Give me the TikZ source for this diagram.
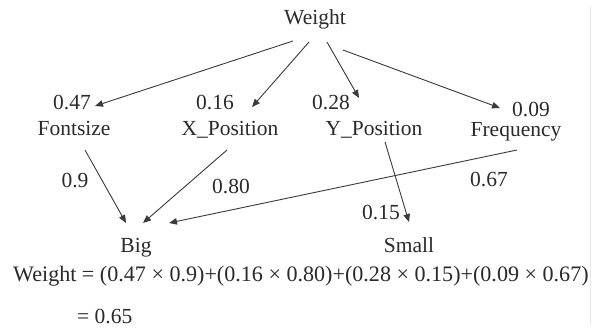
\documentclass[tikz,border=0pt]{standalone}
\usepackage{fontspec}
\setmainfont{Liberation Serif}
\usetikzlibrary{arrows.meta}
\definecolor{ink}{HTML}{2A2A2A}
\definecolor{wire}{HTML}{3A3A3A}
\begin{document}
\begin{tikzpicture}[x=1pt,y=-1pt,
  lbl/.style={anchor=base,inner sep=0pt,text=ink,font=\fontsize{21.5}{24}\selectfont},
  conn/.style={draw=wire,line width=0.9pt,-{Triangle[length=8pt,width=6.5pt]}}]
\useasboundingbox[fill=white] (0,0) rectangle (597,329);
\draw[gray!18,line width=1pt] (590,7) -- (590,325);
% nodes
\node[lbl] (w) at (315,25) {Weight};
\node[lbl] (l47) at (72,110) {0.47};
\node[lbl] (l16) at (215,110) {0.16};
\node[lbl] (l28) at (331,110) {0.28};
\node[lbl] (l09) at (531,116) {0.09};
\node[lbl] (fs) at (74,135) {Fontsize};
\node[lbl] (xp) at (230,135) {X\_Position};
\node[lbl] (yp) at (374,135) {Y\_Position};
\node[lbl] (fq) at (516,136) {Frequency};
\node[lbl] (l9) at (75,187) {0.9};
\node[lbl] (l80) at (231,193) {0.80};
\node[lbl] (l67) at (489,186) {0.67};
\node[lbl] (l15) at (381,219) {0.15};
\node[lbl] (big) at (136,252) {Big};
\node[lbl] (small) at (409,252) {Small};
\node[lbl,anchor=base west,font=\fontsize{22.1}{24}\selectfont] (eq) at (13,281) {Weight = (0.47 × 0.9)+(0.16 × 0.80)+(0.28 × 0.15)+(0.09 × 0.67)};
\node[lbl,anchor=base west] (res) at (77,323) {= 0.65};
% connectors
\draw[conn] ([shift={(-22,16)}]w.base) -- ([shift={(23,-4)}]l47.base);
\draw[conn] ([shift={(-6,17)}]w.base) -- ([shift={(37,-3)}]l16.base);
\draw[conn] ([shift={(12,17)}]w.base) -- ([shift={(28,-12)}]l28.base);
\draw[conn] ([shift={(28,25)}]w.base) -- ([shift={(-31,-8)}]l09.base);
\draw[conn] ([shift={(11,15)}]fs.base) -- ([shift={(-10,-29)}]big.base);
\draw[conn] ([shift={(-3,15)}]xp.base) -- ([shift={(7,-29)}]big.base);
\draw[conn] ([shift={(1,14)}]fq.base) -- ([shift={(33,-29)}]big.base);
\draw[conn] ([shift={(11,7)}]yp.base) -- ([shift={(0,-30)}]small.base);
\end{tikzpicture}
\end{document}
